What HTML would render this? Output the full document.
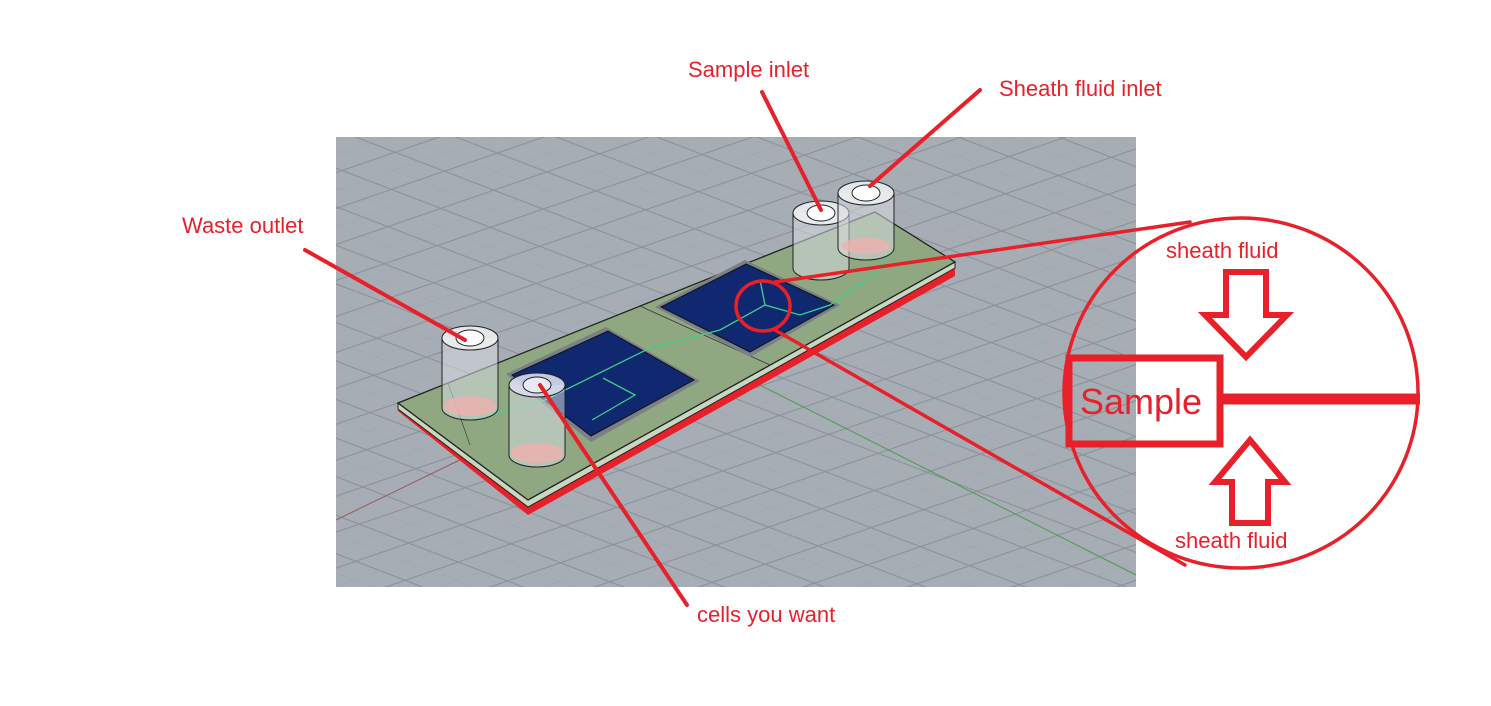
<!DOCTYPE html>
<html><head><style>body{margin:0;background:#fff}svg{display:block}</style></head>
<body>
<svg width="1491" height="706" viewBox="0 0 1491 706" xmlns="http://www.w3.org/2000/svg" font-family="Liberation Sans, sans-serif">
<defs>
<pattern id="pa" width="400" height="36" patternUnits="userSpaceOnUse" patternTransform="rotate(21)">
<line x1="0" y1="0.5" x2="400" y2="0.5" stroke="#8a9199" stroke-width="1.2"/>
<line x1="0" y1="18.5" x2="400" y2="18.5" stroke="#9ea5ad" stroke-width="0.5"/></pattern>
<pattern id="pb" width="400" height="34" patternUnits="userSpaceOnUse" patternTransform="rotate(-19)">
<line x1="0" y1="0.5" x2="400" y2="0.5" stroke="#8a9199" stroke-width="1.2"/>
<line x1="0" y1="17.5" x2="400" y2="17.5" stroke="#9ea5ad" stroke-width="0.5"/></pattern>
</defs>
<rect x="336" y="137" width="800" height="450" fill="#a6adb5"/>
<rect x="336" y="137" width="800" height="450" fill="url(#pa)"/>
<rect x="336" y="137" width="800" height="450" fill="url(#pb)"/>
<line x1="336" y1="520" x2="470" y2="455" stroke="#9a5a5a" stroke-width="1"/>
<line x1="760" y1="385" x2="1136" y2="575" stroke="#4e9a4e" stroke-width="1"/>
<!-- chip -->
<polygon points="398,411 528,515 955,276 955,266 528,506 398,402" fill="#e8202a"/>
<polygon points="398,403 528,500 955,262 955,268 528,507 398,409" fill="#c8d8c0" stroke="#222" stroke-width="1"/>
<polygon points="398,403 875,212 955,262 528,500" fill="#8fa882" stroke="#222" stroke-width="1.3"/>
<line x1="640" y1="306" x2="770" y2="365" stroke="#333" stroke-width="0.8"/>
<line x1="448" y1="383" x2="470" y2="445" stroke="#333" stroke-width="0.6"/>
<!-- squares -->
<polygon points="606,327 700,381 591,442 506,374" fill="#7a7f88"/>
<polygon points="608,331 694,380 591,436 512,375" fill="#0f2870" stroke="#111" stroke-width="1"/>
<polygon points="745,260 840,305 750,357 655,307" fill="#7a7f88"/>
<polygon points="746,264 834,305 750,352 661,307" fill="#0f2870" stroke="#111" stroke-width="1"/>
<polyline points="470,420 545,400 650,348 720,330 765,305 800,315 830,305 880,270 890,250" fill="none" stroke="#3fd08a" stroke-width="1.3"/>
<polyline points="603,378 635,395 592,420" fill="none" stroke="#3fd08a" stroke-width="1.3"/>
<line x1="765" y1="305" x2="760" y2="280" stroke="#3fd08a" stroke-width="1.3"/>
<!-- cylinders -->
<g stroke="#222" stroke-width="1" fill="#d6dadf" fill-opacity="0.55">
<path d="M442,338 v70 a28,12 0 0 0 56,0 v-70" />
<ellipse cx="470" cy="338" rx="28" ry="12" fill="#eceef0" fill-opacity="0.9"/>
<ellipse cx="470" cy="338" rx="14" ry="8" fill="#fff" fill-opacity="1"/>
<path d="M509,385 v70 a28,12 0 0 0 56,0 v-70" />
<ellipse cx="537" cy="385" rx="28" ry="12" fill="#d8dcee" fill-opacity="0.9"/>
<ellipse cx="537" cy="385" rx="14" ry="8" fill="#e8eaf6" fill-opacity="1"/>
<path d="M793,213 v55 a28,12 0 0 0 56,0 v-55" />
<ellipse cx="821" cy="213" rx="28" ry="12" fill="#eceef0" fill-opacity="0.9"/>
<ellipse cx="821" cy="213" rx="14" ry="8" fill="#fff" fill-opacity="1"/>
<path d="M838,193 v55 a28,12 0 0 0 56,0 v-55" />
<ellipse cx="866" cy="193" rx="28" ry="12" fill="#eceef0" fill-opacity="0.9"/>
<ellipse cx="866" cy="193" rx="14" ry="8" fill="#fff" fill-opacity="1"/>
</g>
<g fill="#f0b0b0" opacity="0.8"><ellipse cx="470" cy="406" rx="26" ry="10"/><ellipse cx="537" cy="453" rx="26" ry="10"/><ellipse cx="866" cy="246" rx="24" ry="8"/></g>
<!-- callouts -->
<g stroke="#e8202a" stroke-width="4" fill="none" stroke-linecap="round">
<line x1="305" y1="250" x2="465" y2="340"/>
<line x1="762" y1="92" x2="821" y2="210"/>
<line x1="980" y1="90" x2="870" y2="186"/>
<line x1="540" y1="385" x2="687" y2="605"/>
<ellipse cx="763" cy="306" rx="27" ry="25" stroke-width="3.5"/>
<line x1="775" y1="282" x2="1190" y2="222" stroke-width="3.5"/>
<line x1="775" y1="330" x2="1185" y2="565" stroke-width="3.5"/>
<ellipse cx="1241" cy="393" rx="177" ry="175" stroke-width="3.5"/>
<rect x="1069" y="358" width="151" height="86" stroke-width="7"/>
<line x1="1222" y1="399" x2="1420" y2="399" stroke-width="11" stroke-linecap="butt"/>
<polygon points="1226,272 1266,272 1266,315 1287,315 1246,357 1205,315 1226,315" stroke-width="6" stroke-linejoin="miter"/>
<polygon points="1232,523 1268,523 1268,482 1285,482 1250,440 1215,482 1232,482" stroke-width="6" stroke-linejoin="miter"/>
</g>
<g fill="#e8202a" font-size="22">
<text x="182" y="233">Waste outlet</text>
<text x="688" y="77">Sample inlet</text>
<text x="999" y="96">Sheath fluid inlet</text>
<text x="697" y="622">cells you want</text>
<text x="1166" y="258">sheath fluid</text>
<text x="1175" y="548">sheath fluid</text>
<text x="1080" y="414" font-size="36">Sample</text>
</g>
</svg>
</body></html>
